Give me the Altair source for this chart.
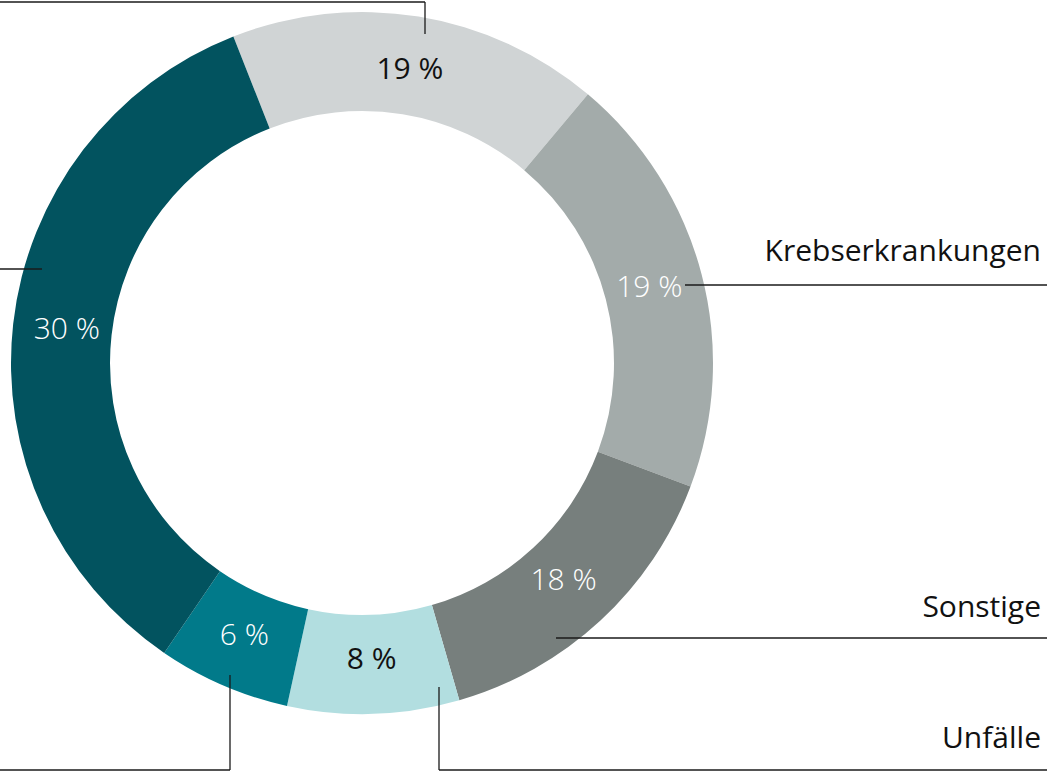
import math
import altair as alt
import pandas as pd

# ---- data ----
categories = [
    "Erkrankungen des Skelett- und Bewegungsapparats",
    "Krebserkrankungen",
    "Sonstige",
    "Unfälle",
    "Herz-Kreislauf-Erkrankungen",
    "Psychische Erkrankungen",
]
# arc shares as drawn (percent of the full circle)
shares = [17.1, 19.6, 14.8, 7.9, 6.1, 34.5]
# printed percentage labels
pct_labels = ["19 %", "19 %", "18 %", "8 %", "6 %", "30 %"]

# visible category labels on the right
right_labels = ["Krebserkrankungen", "Sonstige", "Unfälle"]

# ---- styles ----
colors = ["#D0D4D5", "#A3ABAA", "#777F7D", "#B2DEE0", "#017A8A", "#02535F"]
label_colors = ["#111111", "#FFFFFF", "#FFFFFF", "#111111", "#FFFFFF", "#FFFFFF"]
FONT = "Open Sans"
CX, CY = 362, 363

df = pd.DataFrame({
    "cat": categories,
    "share": shares,
    "pct": pct_labels,
    "order": list(range(len(categories))),
    "lc": label_colors,
})

start = math.radians(-21.5) + 2 * math.pi
theta_scale = alt.Scale(domain=[0, sum(shares)], range=[start, start + 2 * math.pi])

base = alt.Chart(df).encode(
    theta=alt.Theta("share:Q", stack=True, scale=theta_scale),
    order=alt.Order("order:Q"),
)

arcs = base.mark_arc(x=CX, y=CY, outerRadius=351, innerRadius=252, strokeWidth=0).encode(
    color=alt.Color("cat:N", scale=alt.Scale(domain=categories, range=colors), legend=None)
)

# transparent text for light-coloured segments is drawn in a separate layer with regular weight
texts_white = base.mark_text(
    x=CX, y=CY, radius=297, fontSize=30, font=FONT, fontWeight=300
).encode(
    text="pct:N",
    color=alt.Color("lc:N", scale=None),
    opacity=alt.condition("datum.lc == '#FFFFFF'", alt.value(1), alt.value(0)),
)
texts_dark = base.mark_text(
    x=CX, y=CY, radius=297, fontSize=30, font=FONT, fontWeight=400
).encode(
    text="pct:N",
    color=alt.Color("lc:N", scale=None),
    opacity=alt.condition("datum.lc == '#FFFFFF'", alt.value(0), alt.value(1)),
)

# ---- annotation layout: leader lines and right-hand labels ----
segments = pd.DataFrame([
    {"x": 0, "y": 2, "x2": 425, "y2": 2},
    {"x": 425, "y": 2, "x2": 425, "y2": 34},
    {"x": 0, "y": 269, "x2": 42, "y2": 269},
    {"x": 685, "y": 285, "x2": 1047, "y2": 285},
    {"x": 556, "y": 638, "x2": 1047, "y2": 638},
    {"x": 439, "y": 687, "x2": 439, "y2": 770},
    {"x": 439, "y": 770, "x2": 1047, "y2": 770},
    {"x": 230, "y": 675, "x2": 230, "y2": 770},
    {"x": 0, "y": 770, "x2": 230, "y2": 770},
])
rules = alt.Chart(segments).mark_rule(color="#1a1a1a", strokeWidth=1.3).encode(
    x=alt.X("x:Q", scale=None),
    y=alt.Y("y:Q", scale=None),
    x2="x2:Q",
    y2="y2:Q",
)

label_pos = pd.DataFrame({
    "text": right_labels,
    "x": [1041, 1041, 1041],
    "y": [261, 617, 748],
})
labels = alt.Chart(label_pos).mark_text(
    align="right", baseline="alphabetic", fontSize=30, font=FONT, color="#111111"
).encode(
    x=alt.X("x:Q", scale=None),
    y=alt.Y("y:Q", scale=None),
    text="text:N",
)

chart = alt.layer(arcs, texts_white, texts_dark, rules, labels).properties(
    width=1047, height=772, padding=0, autosize="none"
).configure_view(strokeWidth=0)

chart.save("out.html", embed_options={"renderer": "svg", "actions": False})
